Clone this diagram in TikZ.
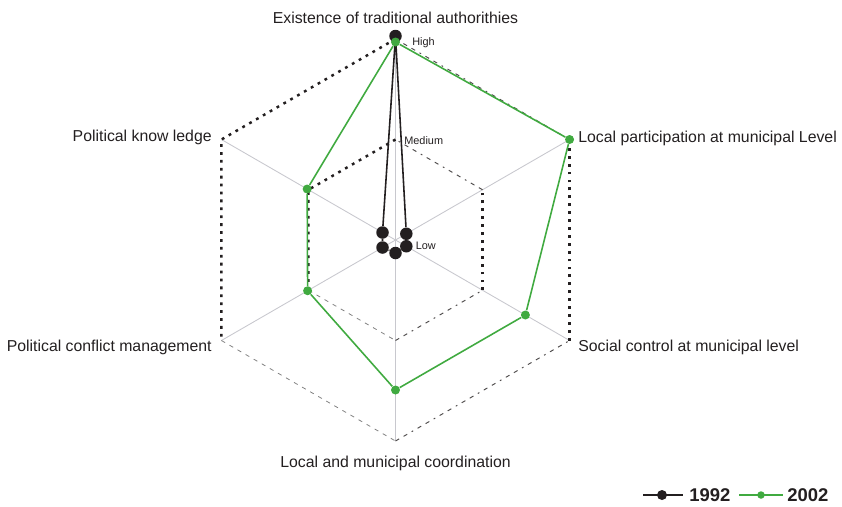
\documentclass[tikz,border=0pt]{standalone}
\usepackage{fontspec}
\setmainfont{Liberation Sans}
\usepackage{tikz}
\definecolor{ink}{RGB}{35,31,32}
\definecolor{grn}{RGB}{64,170,64}
\definecolor{spk}{RGB}{200,200,206}
\tikzset{
  spoke/.style={spk, line width=0.5pt},
  ringdot/.style={ink, line width=1.4pt, dash pattern=on 1.6pt off 2.9pt},
  ringdash/.style={gray, line width=0.45pt, dash pattern=on 2.4pt off 2.9pt},
  ringmix/.style={ink!80, line width=0.55pt, dash pattern=on 2.4pt off 2.9pt on 2.4pt off 2.9pt on 1pt off 2.9pt},
  axislabel/.style={text=ink, inner sep=0pt, font=\fontsize{9}{10}\selectfont},
  levellabel/.style={text=ink, inner sep=0pt, anchor=west, font=\fontsize{6.2}{7}\selectfont},
  bdot/.style={circle, fill=ink, inner sep=0pt, minimum size=0.25cm},
  gdot/.style={circle, fill=grn, inner sep=0pt, minimum size=0.18cm},
  bline/.style={ink, line width=0.9pt},
  gline/.style={grn, line width=0.9pt}
}
\begin{document}
\begin{tikzpicture}
    \useasboundingbox (-7.91,4.8) rectangle (8.93,-5.32);
    \coordinate (c) at (0,0);
    % spokes
    \foreach \a in {90,30,-30,-90,-150,150}
        \draw [spoke] (c) -- (\a:4.02);
    % medium and high rings
    \foreach \r in {2.01,4.02} {
        \draw [ringdot] (90:\r) -- (150:\r) -- (210:\r);
        \draw [ringdash] (210:\r) -- (270:\r);
        \draw [ringmix] (270:\r) -- (330:\r);
        \draw [ringdot] (330:\r) -- (30:\r);
        \draw [ringmix] (30:\r) -- (90:\r);
    }
    % level labels
    \node [levellabel] (high) at (0.33,3.94) {High};
    \node [levellabel] (medium) at (0.17,1.98) {Medium};
    \node [levellabel] (low) at (0.4,-0.12) {Low};
    % axis labels
    \node [axislabel] (trad) at (0,4.44) {Existence of traditional authorithies};
    \node [axislabel, anchor=west] (part) at (3.65,2.04) {Local participation at municipal Level};
    \node [axislabel, anchor=west] (soc) at (3.65,-2.14) {Social control at municipal level};
    \node [axislabel] (coord) at (0,-4.46) {Local and municipal coordination};
    \node [axislabel, anchor=east] (confl) at (-3.67,-2.14) {Political conflict management};
    \node [axislabel, anchor=east] (know) at (-3.67,2.06) {Political know ledge};
    % 1992
    \node [bdot] (b1) at (90:4.08) {};
    \node [bdot] (b2) at (30:0.25) {};
    \node [bdot] (b3) at (-30:0.25) {};
    \node [bdot] (b4) at (-90:0.26) {};
    \node [bdot] (b5) at (-150:0.3) {};
    \node [bdot] (b6) at (150:0.3) {};
    \draw [bline] (b1) -- (b2) -- (b3) -- (b4) -- (b5) -- (b6) -- (b1);
    % 2002
    \node [gdot] (g1) at (90:3.96) {};
    \node [gdot] (g2) at (30:4.02) {};
    \node [gdot] (g3) at (-30:3.0) {};
    \node [gdot] (g4) at (-90:3.0) {};
    \node [gdot] (g5) at (-150:2.03) {};
    \node [gdot] (g6) at (150:2.04) {};
    \draw [gline] (g1) -- (g2) -- (g3) -- (g4) -- (g5) -- (g6) -- (g1);
    % legend
    \coordinate (l1a) at (4.95,-5.1); \coordinate (l1b) at (5.75,-5.1);
    \draw [bline] (l1a) -- (l1b);
    \node [bdot, minimum size=0.2cm] (l1dot) at (5.33,-5.1) {};
    \node [anchor=west, inner sep=0pt, text=ink, font=\fontsize{10.5}{12}\selectfont\bfseries] (l1txt) at (5.87,-5.1) {1992};
    \coordinate (l2a) at (6.87,-5.1); \coordinate (l2b) at (7.75,-5.1);
    \draw [gline] (l2a) -- (l2b);
    \node [gdot, minimum size=0.15cm] (l2dot) at (7.31,-5.1) {};
    \node [anchor=west, inner sep=0pt, text=ink, font=\fontsize{10.5}{12}\selectfont\bfseries] (l2txt) at (7.83,-5.1) {2002};
\end{tikzpicture}
\end{document}
